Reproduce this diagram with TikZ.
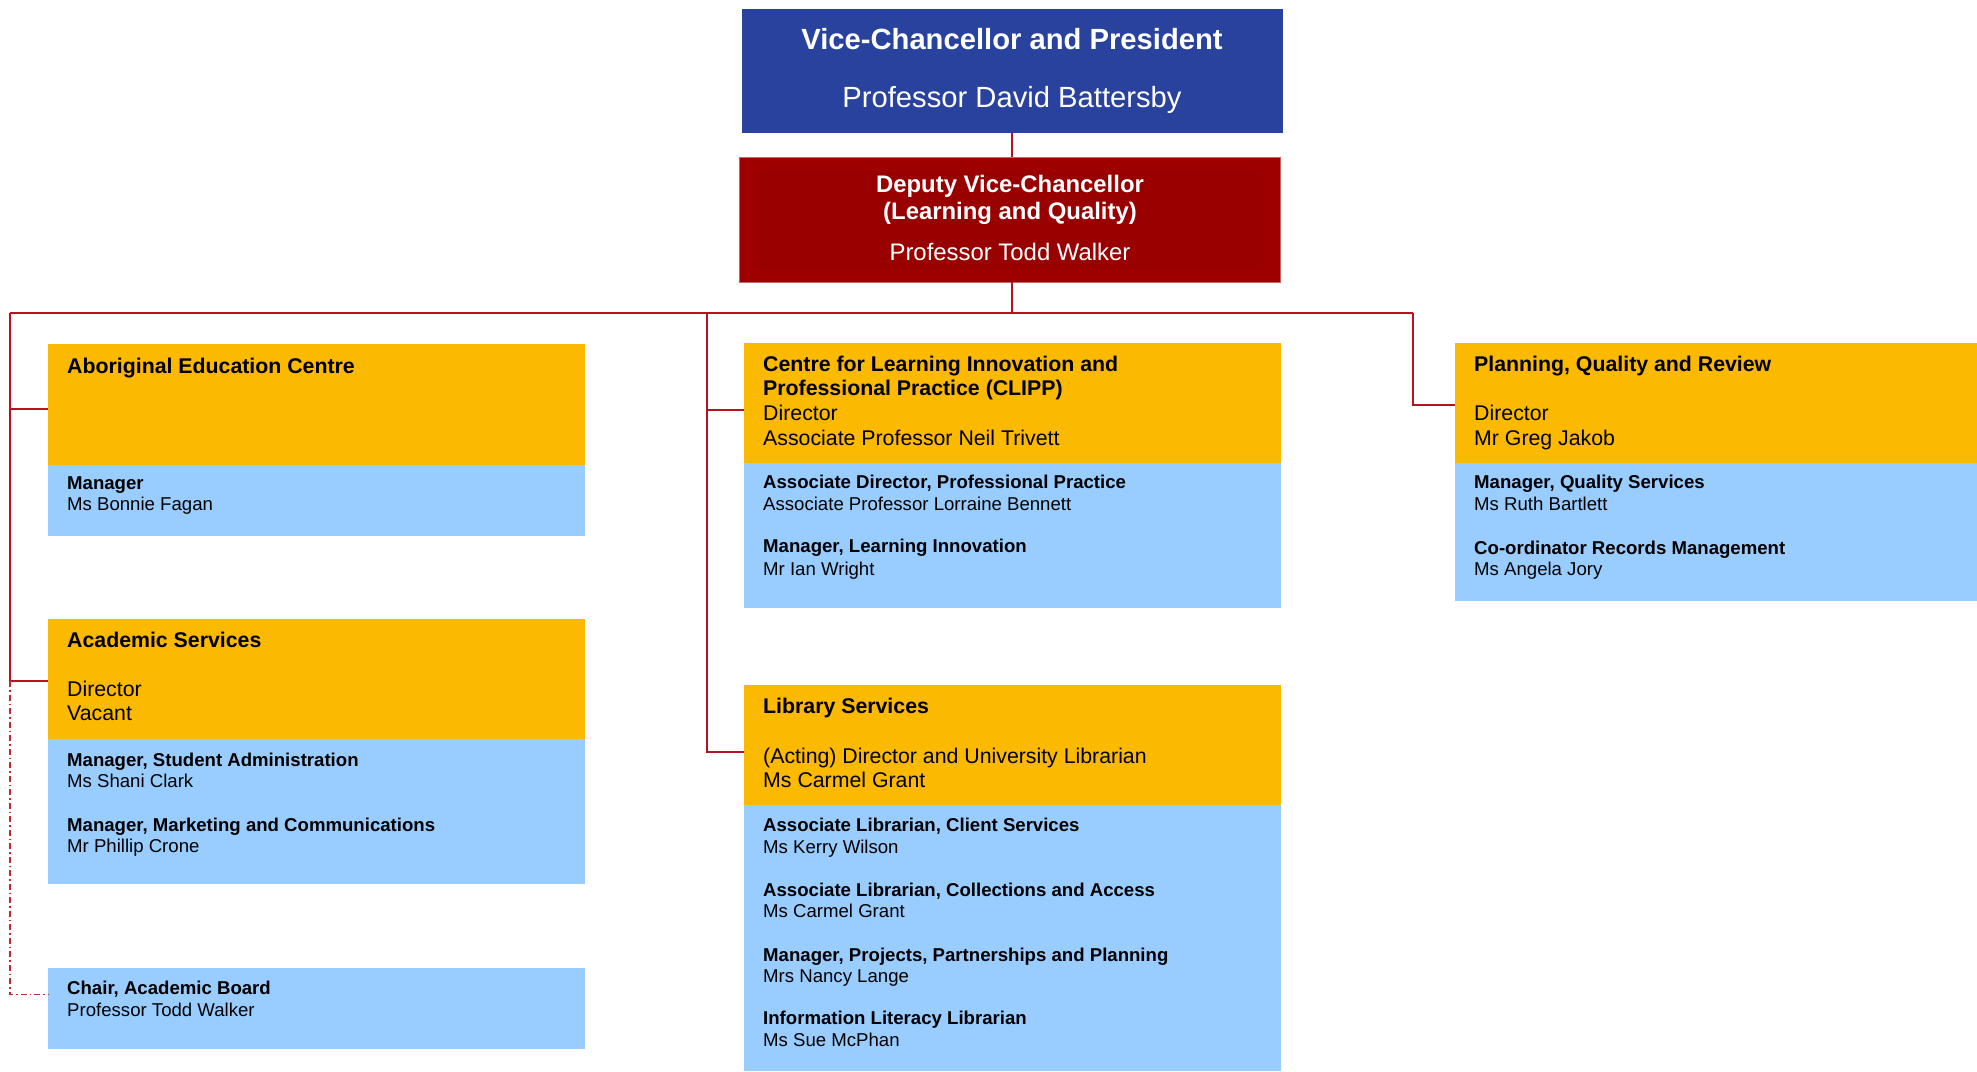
\documentclass[tikz,border=0pt]{standalone}
\usepackage{fontspec}
\setmainfont{Liberation Sans}
\definecolor{vcblue}{RGB}{40,66,158}
\definecolor{dvcred}{RGB}{158,0,0}
\definecolor{dvcin}{RGB}{153,0,0}
\definecolor{unitorange}{RGB}{251,185,0}
\definecolor{staffblue}{RGB}{153,204,255}
\definecolor{linkred}{RGB}{180,20,30}
\definecolor{dotred}{RGB}{195,40,50}
\tikzset{
  box/.style={rectangle, inner sep=0pt, outer sep=0pt, anchor=north west},
  conn/.style={draw=linkred, line width=2pt},
  dotconn/.style={draw=dotred, line width=1.4pt, dash pattern=on 6pt off 3pt on 1.5pt off 3pt},
  txt/.style={inner sep=0pt, anchor=base west},
  ctxt/.style={inner sep=0pt, anchor=base, text=white},
  ubold/.style={txt, font=\fontsize{21.3}{25}\bfseries},
  ureg/.style={txt, font=\fontsize{21.3}{25}\selectfont},
  sbold/.style={txt, font=\fontsize{18.6}{22}\bfseries},
  sreg/.style={txt, font=\fontsize{18.6}{22}\selectfont},
}
\begin{document}
\begin{tikzpicture}[x=1pt,y=-1pt]
\useasboundingbox[fill=white] (0,0) rectangle (1977,1071);
% top boxes
\node[box, fill=vcblue, minimum width=541pt, minimum height=124pt] (vc) at (742,9) {};
\node[box, fill=dvcred, draw=dvcred!60!white, line width=0.6pt, minimum width=541pt, minimum height=125pt] (dvc) at (739,157) {};
\node[box, fill=dvcin, minimum width=503pt, minimum height=97pt] (dvcin) at (759,172) {};
\node[ctxt, font=\fontsize{29.2}{34}\bfseries] (vct) at (1012,49) {Vice-Chancellor and President};
\node[ctxt, font=\fontsize{29.2}{34}\selectfont] (vcn) at (1012,107) {Professor David Battersby};
\node[ctxt, font=\fontsize{23.9}{28}\bfseries] (dvct1) at (1010,192) {Deputy Vice-Chancellor};
\node[ctxt, font=\fontsize{23.9}{28}\bfseries] (dvct2) at (1010,219) {(Learning and Quality)};
\node[ctxt, font=\fontsize{23.9}{28}\selectfont] (dvcn) at (1010,260) {Professor Todd Walker};
% Aboriginal Education Centre
\node[box, fill=unitorange, minimum width=537pt, minimum height=121pt] (abh) at (48,344) {};
\node[box, fill=staffblue, minimum width=537pt, minimum height=71pt] (abs) at (48,465) {};
\node[ubold] (abt) at (67,373) {Aboriginal Education Centre};
\node[sbold] (ab1) at (67,489) {Manager};
\node[sreg] (ab2) at (67,510) {Ms Bonnie Fagan};
% Academic Services
\node[box, fill=unitorange, minimum width=537pt, minimum height=120pt] (ash) at (48,619) {};
\node[box, fill=staffblue, minimum width=537pt, minimum height=145pt] (ass) at (48,739) {};
\node[ubold] (ast) at (67,647) {Academic Services};
\node[ureg] (asd) at (67,696) {Director};
\node[ureg] (asn) at (67,720) {Vacant};
\node[sbold] (as1) at (67,766) {Manager, Student Administration};
\node[sreg] (as2) at (67,787) {Ms Shani Clark};
\node[sbold] (as3) at (67,831) {Manager, Marketing and Communications};
\node[sreg] (as4) at (67,852) {Mr Phillip Crone};
% Chair
\node[box, fill=staffblue, minimum width=537pt, minimum height=81pt] (ch) at (48,968) {};
\node[sbold] (ch1) at (67,994) {Chair, Academic Board};
\node[sreg] (ch2) at (67,1016) {Professor Todd Walker};
% CLIPP
\node[box, fill=unitorange, minimum width=537pt, minimum height=120pt] (clh) at (744,343) {};
\node[box, fill=staffblue, minimum width=537pt, minimum height=145pt] (cls) at (744,463) {};
\node[ubold] (clt1) at (763,371) {Centre for Learning Innovation and};
\node[ubold] (clt2) at (763,395) {Professional Practice (CLIPP)};
\node[ureg] (cld) at (763,420) {Director};
\node[ureg] (cln) at (763,445) {Associate Professor Neil Trivett};
\node[sbold] (cl1) at (763,488) {Associate Director, Professional Practice};
\node[sreg] (cl2) at (763,510) {Associate Professor Lorraine Bennett};
\node[sbold] (cl3) at (763,552) {Manager, Learning Innovation};
\node[sreg] (cl4) at (763,575) {Mr Ian Wright};
% Library Services
\node[box, fill=unitorange, minimum width=537pt, minimum height=120pt] (lih) at (744,685) {};
\node[box, fill=staffblue, minimum width=537pt, minimum height=266pt] (lis) at (744,805) {};
\node[ubold] (lit) at (763,713) {Library Services};
\node[ureg] (lid) at (763,763) {(Acting) Director and University Librarian};
\node[ureg] (lin) at (763,787) {Ms Carmel Grant};
\node[sbold] (li1) at (763,831) {Associate Librarian, Client Services};
\node[sreg] (li2) at (763,853) {Ms Kerry Wilson};
\node[sbold] (li3) at (763,896) {Associate Librarian, Collections and Access};
\node[sreg] (li4) at (763,917) {Ms Carmel Grant};
\node[sbold] (li5) at (763,961) {Manager, Projects, Partnerships and Planning};
\node[sreg] (li6) at (763,982) {Mrs Nancy Lange};
\node[sbold] (li7) at (763,1024) {Information Literacy Librarian};
\node[sreg] (li8) at (763,1046) {Ms Sue McPhan};
% Planning, Quality and Review
\node[box, fill=unitorange, minimum width=522pt, minimum height=120pt] (pqh) at (1455,343) {};
\node[box, fill=staffblue, minimum width=522pt, minimum height=138pt] (pqs) at (1455,463) {};
\node[ubold] (pqt) at (1474,371) {Planning, Quality and Review};
\node[ureg] (pqd) at (1474,420) {Director};
\node[ureg] (pqn) at (1474,445) {Mr Greg Jakob};
\node[sbold] (pq1) at (1474,488) {Manager, Quality Services};
\node[sreg] (pq2) at (1474,510) {Ms Ruth Bartlett};
\node[sbold] (pq3) at (1474,554) {Co-ordinator Records Management};
\node[sreg] (pq4) at (1474,575) {Ms Angela Jory};
% connectors
\coordinate (busL) at (10,313);
\coordinate (busC) at (707,313);
\coordinate (busR) at (1413,313);
\coordinate (asj) at (10,681);
\coordinate (trunk) at (1012,313);
\draw[conn] (trunk |- vc.south) -- (trunk |- dvc.north);
\draw[conn] (trunk |- dvc.south) -- (trunk);
\draw[conn] (busL) -- (busR);
\draw[conn] (busL) |- ([yshift=-4.5pt]abh.west);
\draw[conn] (busL) -- (asj) -- ([yshift=-2pt]ash.west);
\draw[dotconn] (asj) |- ([yshift=14pt]ch.west);
\draw[conn] (busC) |- ([yshift=-7pt]clh.west);
\draw[conn] (busC) |- ([yshift=-7pt]lih.west);
\draw[conn] (busR) |- ([yshift=-2pt]pqh.west);
\end{tikzpicture}
\end{document}
